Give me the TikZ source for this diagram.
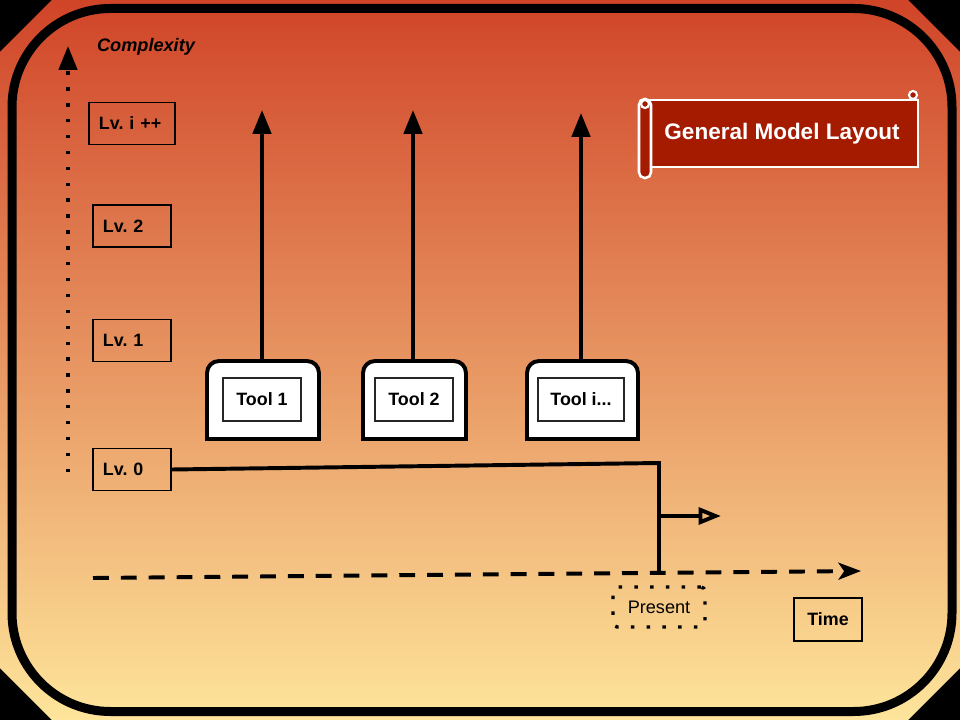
\documentclass[tikz,border=0pt]{standalone}
\usepackage{fontspec}
\setmainfont{Liberation Sans}
\usetikzlibrary{arrows.meta}

\definecolor{bgtop}{RGB}{208,68,40}
\definecolor{bgmid}{RGB}{238,158,98}
\definecolor{bgbottom}{RGB}{254,229,155}
\definecolor{scrollred}{RGB}{165,27,0}

\begin{document}
\frenchspacing
\begin{tikzpicture}[x = 0.025cm, y = -0.025cm, line width = 2.8pt,
				level/.style = {draw, line width = 1.2pt, minimum height = 1.05cm,
				text width = 1.45cm, inner xsep = 0.25cm, align = left,
				font = \bfseries\fontsize{12.7}{15}\selectfont},
				frame/.style = {minimum width = 2.7cm, minimum height = 1.85cm},
				tool/.style = {draw = black!85, fill = white, line width = 1.2pt,
				minimum width = 1.95cm, minimum height = 1.075cm,
				font = \bfseries\fontsize{12.7}{15}\selectfont},
				up/.style = {-{Triangle[length = 17pt, width = 13pt]}},
				dots/.style = {line cap = butt, dash pattern = on 2.4pt off 8.9pt}]

				\useasboundingbox (0,0) rectangle (960,720);
				\fill[black] (0,0) rectangle (960,720);
				\shade[top color = bgtop, middle color = bgmid, bottom color = bgbottom]
				(52,0) -- (908,0) -- (960,52) -- (960,668) -- (908,720) -- (52,720)
				-- (0,668) -- (0,52) -- cycle;
				\draw[line width = 6.4pt, rounded corners = 70pt] (12,8.5) rectangle (952,711.5);

				% levels
				\node [level, text width = 1.65cm] (lv_i) at (132,123.5) {Lv. i ++};
				\node [level] (lv_2) at (132,226) {Lv. 2};
				\node [level] (lv_1) at (132,340.5) {Lv. 1};
				\node [level] (lv_0) at (132,469.5) {Lv. 0};

				\coordinate (c_low) at (68,472);
				\coordinate (c_top) at (68,46);
				\draw [dots, -{Triangle[length = 17pt, width = 13pt]}] (c_low) -- (c_top);
				\node [font = \bfseries\itshape\fontsize{12.9}{15}\selectfont] (complexity) at (146,47) {Complexity};

				% tools
				\node [frame] (tool_1) at (263,400) {};
				\node [frame, minimum width = 2.475cm] (tool_2) at (414.5,400) {};
				\node [frame, minimum width = 2.675cm] (tool_3) at (582.5,400) {};
				\filldraw [fill = white] (tool_1.south west) [rounded corners = 8.5pt] -- (tool_1.north west)
				-- (tool_1.north east) [sharp corners] -- (tool_1.south east) -- cycle;
				\filldraw [fill = white] (tool_2.south west) [rounded corners = 8.5pt] -- (tool_2.north west)
				-- (tool_2.north east) [sharp corners] -- (tool_2.south east) -- cycle;
				\filldraw [fill = white] (tool_3.south west) [rounded corners = 8.5pt] -- (tool_3.north west)
				-- (tool_3.north east) [sharp corners] -- (tool_3.south east) -- cycle;
				\node [tool] (t_1) at (262,399.5) {Tool 1};
				\node [tool] (t_2) at (414,399.5) {Tool 2};
				\node [tool, minimum width = 2.15cm] (t_3) at (581,399.5) {Tool i...};

				\coordinate (u_1) at (262,110);
				\coordinate (u_2) at (413,110);
				\coordinate (u_3) at (581,113);
				\draw [up] (tool_1.north -| u_1) -- (u_1);
				\draw [up] (tool_2.north -| u_2) -- (u_2);
				\draw [up] (tool_3.north -| u_3) -- (u_3);

				% time axis
				\coordinate (t_start) at (93,578);
				\coordinate (t_end) at (861,571);
				\draw [line cap = butt, dash pattern = on 11.3pt off 8.5pt,
				-{Stealth[length = 16pt, width = 12pt, inset = 4pt]}] (t_start) -- (t_end);

				\coordinate (bend) at (659,463);
				\coordinate (now) at (659,573);
				\coordinate (flag) at (659,516);
				\coordinate (flag_end) at (721,516);
				\draw (lv_0.east) -- (bend) -- (now);
				\draw [-{Triangle[open, length = 16pt, width = 12pt]}] (flag) -- (flag_end);

				\node [draw, line cap = butt, line width = 2.4pt, dash pattern = on 2.4pt off 8.8pt,
				rounded corners = 3pt, minimum width = 2.3cm, minimum height = 1cm,
				font = \fontsize{12.9}{15}\selectfont] (present) at (659,607) {Present};
				\node [draw, line width = 1.2pt, minimum width = 1.7cm, minimum height = 1.075cm,
				font = \bfseries\fontsize{12.7}{15}\selectfont] (time) at (828,619.5) {Time};

				% title scroll
				\node [draw = white, fill = scrollred, line width = 1.8pt, minimum width = 6.8cm,
				minimum height = 1.675cm, text = white,
				font = \bfseries\fontsize{16}{19}\selectfont] (title) at (782,133.5) {General Model Layout};
				\filldraw [draw = white, fill = scrollred, line width = 1.8pt, rounded corners = 4pt]
				(639,99) rectangle (651,178);
				\filldraw [draw = white, fill = scrollred, line width = 1.5pt] (645,104) circle (4);
				\filldraw [draw = white, fill = scrollred, line width = 1.5pt] (913,95) circle (4);
\end{tikzpicture}
\end{document}
